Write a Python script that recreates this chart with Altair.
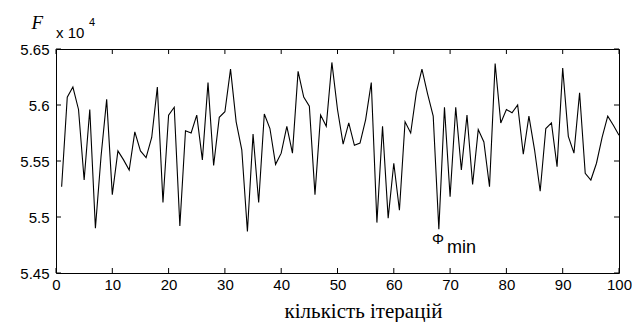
import altair as alt
import pandas as pd

# ---- data (F in units of 10^4) ----
iterations = list(range(1, 101))
f_values = [
    5.527, 5.607, 5.616, 5.596, 5.533, 5.596, 5.490, 5.554, 5.605, 5.520,
    5.559, 5.551, 5.542, 5.576, 5.559, 5.553, 5.571, 5.616, 5.513, 5.591,
    5.598, 5.492, 5.577, 5.575, 5.591, 5.551, 5.620, 5.546, 5.589, 5.594,
    5.632, 5.585, 5.560, 5.487, 5.574, 5.513, 5.592, 5.579, 5.547, 5.557,
    5.581, 5.557, 5.630, 5.607, 5.599, 5.520, 5.591, 5.581, 5.638, 5.596,
    5.565, 5.584, 5.564, 5.566, 5.587, 5.620, 5.495, 5.581, 5.499, 5.548,
    5.506, 5.585, 5.575, 5.611, 5.632, 5.610, 5.590, 5.489, 5.598, 5.518,
    5.598, 5.542, 5.591, 5.529, 5.578, 5.567, 5.527, 5.637, 5.584, 5.596,
    5.593, 5.600, 5.556, 5.590, 5.560, 5.523, 5.579, 5.584, 5.545, 5.633,
    5.572, 5.557, 5.611, 5.539, 5.533, 5.548, 5.571, 5.590, 5.582, 5.573,
]
x_ticks = [0, 10, 20, 30, 40, 50, 60, 70, 80, 90, 100]
y_ticks = [5.45, 5.5, 5.55, 5.6, 5.65]
x_title = "кількість ітерацій"
y_title = "F"
exponent_base = "x 10"
exponent_power = "4"
phi_label = ["Φ"]
phi_x = [67.85]
phi_y = [5.480]
min_label = ["min"]
min_x = [69.45]
min_y = [5.468]

W, H = 563, 224
TICK = 5

df = pd.DataFrame({"iter": iterations, "F": f_values})
xs = alt.Scale(domain=[0, 100], nice=False, zero=False)
ys = alt.Scale(domain=[5.45, 5.65], nice=False, zero=False)

ax_x = alt.Axis(
    values=x_ticks, title=x_title, domain=False, ticks=False, grid=False,
    labelPadding=4, labelFlush=False,
    titleFont="Liberation Serif", titleFontSize=21, titleFontWeight="normal",
    titleColor="black", titleX=307, titleY=44, titleAlign="center",
    titleBaseline="alphabetic")
ax_y = alt.Axis(
    values=y_ticks, format="~g", title=y_title, domain=False, ticks=False,
    grid=False, labelPadding=7, labelFlush=False,
    titleFont="Liberation Serif", titleFontStyle="italic", titleFontSize=19,
    titleFontWeight="normal", titleColor="black", titleAngle=0,
    titleX=-25, titleY=-21, titleAlign="left", titleBaseline="alphabetic")

line = alt.Chart(df).mark_line(color="black", strokeWidth=1.1).encode(
    x=alt.X("iter:Q", scale=xs, axis=ax_x),
    y=alt.Y("F:Q", scale=ys, axis=ax_y),
)

xt = pd.DataFrame({"t": x_ticks})
yt = pd.DataFrame({"t": y_ticks})

tick_b = alt.Chart(xt).mark_rule(color="black", strokeWidth=1).encode(
    x=alt.X("t:Q", scale=xs, axis=ax_x), y=alt.value(H), y2=alt.value(H - TICK))
tick_t = alt.Chart(xt).mark_rule(color="black", strokeWidth=1).encode(
    x=alt.X("t:Q", scale=xs, axis=ax_x), y=alt.value(0), y2=alt.value(TICK))
tick_l = alt.Chart(yt).mark_rule(color="black", strokeWidth=1).encode(
    y=alt.Y("t:Q", scale=ys, axis=ax_y), x=alt.value(0), x2=alt.value(TICK))
tick_r = alt.Chart(yt).mark_rule(color="black", strokeWidth=1).encode(
    y=alt.Y("t:Q", scale=ys, axis=ax_y), x=alt.value(W), x2=alt.value(W - TICK))

phi = alt.Chart(pd.DataFrame({"x": phi_x, "y": phi_y, "t": phi_label})).mark_text(
    font="Liberation Sans", fontSize=15, color="black", align="center",
    baseline="middle").encode(
    x=alt.X("x:Q", scale=xs, axis=ax_x), y=alt.Y("y:Q", scale=ys, axis=ax_y),
    text="t:N")
mn = alt.Chart(pd.DataFrame({"x": min_x, "y": min_y, "t": min_label})).mark_text(
    font="Liberation Sans", fontSize=18, color="black", align="left",
    baseline="alphabetic").encode(
    x=alt.X("x:Q", scale=xs, axis=ax_x), y=alt.Y("y:Q", scale=ys, axis=ax_y),
    text="t:N")

expo_base = alt.Chart(alt.Data(values=[{}])).mark_text(
    text=exponent_base, font="Liberation Sans", fontSize=15, color="black",
    align="left", baseline="alphabetic").encode(x=alt.value(0), y=alt.value(-11))
expo_pow = alt.Chart(alt.Data(values=[{}])).mark_text(
    text=exponent_power, font="Liberation Sans", fontSize=11, color="black",
    align="left", baseline="alphabetic").encode(x=alt.value(33), y=alt.value(-23))

chart = alt.layer(line, tick_b, tick_t, tick_l, tick_r, phi, mn, expo_base, expo_pow).properties(
    width=W, height=H,
    padding={"left": 48, "top": 41, "right": 13, "bottom": 49},
    autosize=alt.AutoSizeParams(type="none"),
    background="white",
).configure_view(
    stroke="black", strokeWidth=1
).configure_axis(
    labelFont="Liberation Sans", labelFontSize=15, labelColor="black",
)

chart.save("out.html", embed_options={"renderer": "svg", "actions": False})
